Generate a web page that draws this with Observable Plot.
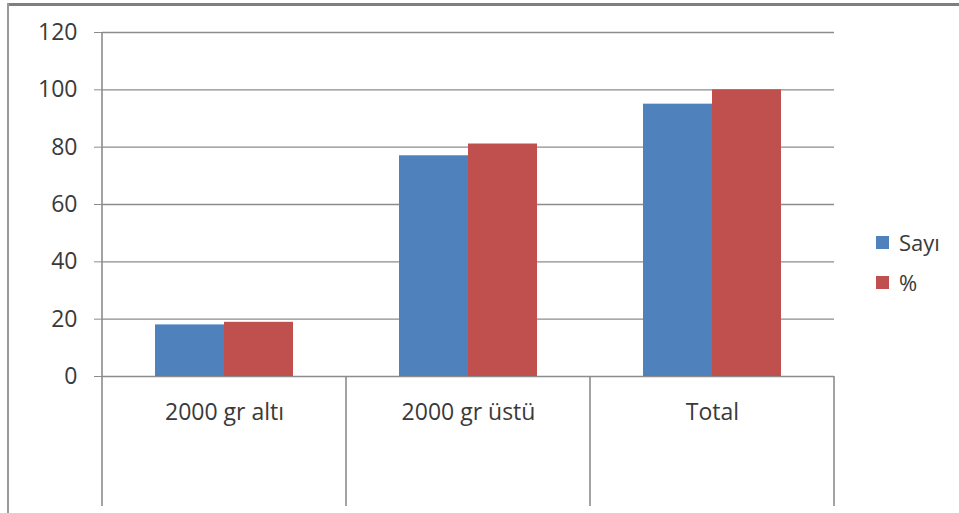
<!DOCTYPE html>
<html>
<head>
<meta charset="utf-8">
<script src="https://cdn.jsdelivr.net/npm/d3@7"></script>
<script src="https://cdn.jsdelivr.net/npm/@observablehq/plot@0.6"></script>
<style>
  html, body { margin: 0; padding: 0; background: #fff; }
  #wrap { position: relative; width: 959px; height: 513px; overflow: hidden; font-family: "Open Sans", Lato, sans-serif; }
  #wrap svg { position: absolute; left: 0; top: 0; }
  .border-top { position: absolute; left: 7px; top: 3px; right: 0; height: 3px; background: #7f7f7f; }
  .border-left { position: absolute; left: 7px; top: 3px; bottom: 0; width: 2px; background: #9a9a9a; }
  #legend { position: absolute; left: 876px; top: 232px; color: #3a3a3a; font-size: 22px; }
  #legend .row { display: flex; align-items: center; height: 20px; margin-bottom: 20px; }
  #legend .sw { width: 13px; height: 13px; margin-right: 10px; }
</style>
</head>
<body>
<div id="wrap">
  <div class="border-top"></div>
  <div class="border-left"></div>
  <div id="legend"></div>
</div>
<script>
// Birth weight groups: counts and percentages
const categories = ["2000 gr altı", "2000 gr üstü", "Total"];
const series = ["Sayı", "%"];
const sayi = [18, 77, 95];
const yuzde = [18.9, 81.1, 100];
const yTicks = [0, 20, 40, 60, 80, 100, 120];
const colors = ["#4F81BD", "#C0504D"];

const rows = categories.flatMap((c, i) => [
  {category: c, series: series[0], value: sayi[i]},
  {category: c, series: series[1], value: yuzde[i]}
]);

const W = 959, H = 513;
const gridColor = "#8c8c8c";
const textColor = "#3a3a3a";

const chart = Plot.plot({
  width: W,
  height: H,
  marginLeft: 101,
  marginRight: 124,
  marginTop: 32,
  marginBottom: 137,
  style: {fontFamily: "'Open Sans', Lato, sans-serif", fontSize: "23px", background: "transparent", overflow: "visible"},
  fx: {domain: categories, padding: 0, label: null},
  x: {domain: series, paddingInner: 0, paddingOuter: 0.75, axis: null},
  y: {domain: [0, 120], label: null},
  color: {domain: series, range: colors},
  marks: [
    Plot.ruleY(yTicks, {stroke: gridColor, strokeWidth: 1.3}),
    Plot.barY(rows, {fx: "category", x: "series", y: "value", fill: "series"}),
    Plot.axisY(yTicks, {tickSize: 8, tickPadding: 17, stroke: gridColor, fill: textColor, label: null}),
    Plot.axisFx({anchor: "bottom", tickSize: 0, tickPadding: 27, fill: textColor, label: null})
  ]
});

document.getElementById("wrap").prepend(chart);

// Category separators and value axis line, placed with the chart's own scales
const fx = chart.scale("fx");
const y = chart.scale("y");
const bounds = categories.map(c => fx.apply(c));
bounds.push(fx.apply(categories[categories.length - 1]) + fx.bandwidth);
const bottom = H - 7;
const g = d3.select(chart).append("g")
  .attr("stroke", gridColor)
  .attr("stroke-width", 1.6);
bounds.forEach((bx, i) => {
  g.append("line")
    .attr("x1", bx).attr("x2", bx)
    .attr("y1", i === 0 ? y.apply(yTicks[yTicks.length - 1]) : y.apply(0))
    .attr("y2", bottom);
});

// Legend
const legend = d3.select("#legend");
series.forEach((s, i) => {
  const row = legend.append("div").attr("class", "row");
  row.append("div").attr("class", "sw").style("background", colors[i]);
  row.append("span").text(s);
});
</script>
</body>
</html>
